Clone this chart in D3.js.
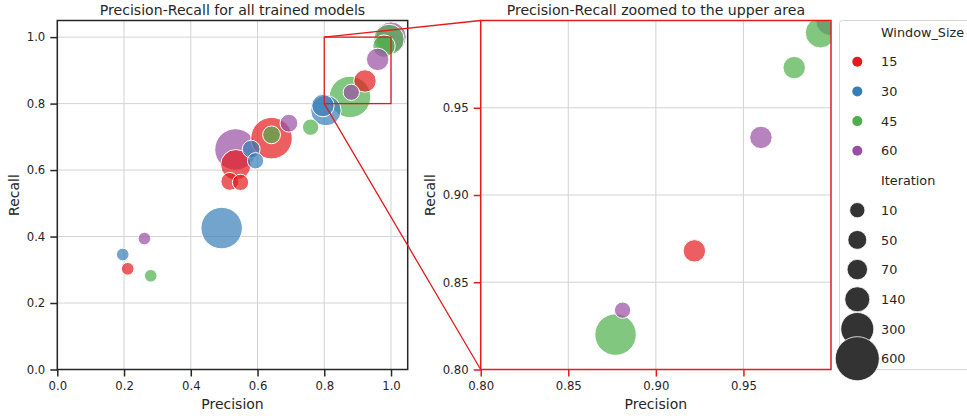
<!DOCTYPE html>
<html>
<head>
<meta charset="utf-8">
<script src="https://cdn.jsdelivr.net/npm/d3@7"></script>
<style>
  body { margin: 0; background: #fff; }
  text { font-family: "DejaVu Sans", sans-serif; fill: #262626; }
</style>
</head>
<body>
<svg id="chart" width="967" height="416"></svg>
<script>
// one row per trained model, listed in the order they get drawn
var runWindow    = [30, 60, 15, 45,   30, 15, 60, 45,   30, 15, 45, 60,   15, 30, 45, 60,   15, 30, 45, 60,   15, 30, 45, 60];
var runIteration = [600, 600, 600, 600, 300, 300, 300, 300, 140, 140, 140, 140, 70, 70, 70, 70, 50, 50, 50, 50, 10, 10, 10, 10];
var runPrecision = [0.4925, 0.534, 0.642, 0.877,  0.805, 0.535, 1.000, 0.994,  0.796, 0.922, 0.979, 0.960,
                    0.517, 0.581, 0.642, 0.694,  0.549, 0.594, 0.759, 0.881,  0.211, 0.196, 0.280, 0.261];
var runRecall    = [0.4255, 0.662, 0.696, 0.820,  0.779, 0.616, 1.000, 0.993,  0.794, 0.868, 0.973, 0.933,
                    0.566, 0.663, 0.706, 0.741,  0.563, 0.628, 0.729, 0.834,  0.303, 0.346, 0.282, 0.394];

var windowSizes = [15, 30, 45, 60];
var iterationLevels = [10, 50, 70, 140, 300, 600];
var windowColors = ['#e41a1c', '#377eb8', '#4daf4a', '#984ea3'];

var fullTicks = [0.0, 0.2, 0.4, 0.6, 0.8, 1.0];
var zoomTicks = [0.80, 0.85, 0.90, 0.95];
var fullRange = [0, 1.05];
var zoomRange = [0.8, 1.0];

var runs = runWindow.map(function(w, i) {
    return { window: w, iteration: runIteration[i], precision: runPrecision[i], recall: runRecall[i] };
});

var svg = d3.select('#chart');
var color = d3.scaleOrdinal(windowSizes, windowColors);
// seaborn maps size to marker area linearly
var area = d3.scaleLinear([10, 600], [40, 430]);
function radius(it) { return Math.sqrt(area(it)); }

var plotTop = 20.5, plotBottom = 369.5;

function panel(id, left, right, domain, ticks, fmt, frameColor, title, labelGap) {
    var x = d3.scaleLinear(domain, [left, right]);
    var y = d3.scaleLinear(domain, [plotBottom, plotTop]);
    var g = svg.append('g');

    g.append('clipPath').attr('id', id)
        .append('rect').attr('x', left).attr('y', plotTop)
        .attr('width', right - left).attr('height', plotBottom - plotTop);

    // grid
    g.append('g').selectAll('line').data(ticks).join('line')
        .attr('x1', d => x(d)).attr('x2', d => x(d))
        .attr('y1', plotTop).attr('y2', plotBottom)
        .attr('stroke', '#d3d3d3').attr('stroke-width', 1);
    g.append('g').selectAll('line').data(ticks).join('line')
        .attr('x1', left).attr('x2', right)
        .attr('y1', d => y(d)).attr('y2', d => y(d))
        .attr('stroke', '#d3d3d3').attr('stroke-width', 1);

    // points
    g.append('g').attr('clip-path', 'url(#' + id + ')')
        .selectAll('circle').data(runs).join('circle')
        .attr('cx', d => x(d.precision))
        .attr('cy', d => y(d.recall))
        .attr('r', d => radius(d.iteration))
        .attr('fill', d => color(d.window))
        .attr('fill-opacity', 0.7)
        .attr('stroke', '#fff').attr('stroke-width', 1);

    var xAxis = d3.axisBottom(x).tickValues(ticks).tickFormat(d3.format(fmt))
        .tickSize(7).tickSizeOuter(0).tickPadding(5);
    var yAxis = d3.axisLeft(y).tickValues(ticks).tickFormat(d3.format(fmt))
        .tickSize(7).tickSizeOuter(0).tickPadding(5);

    var ax = g.append('g').attr('transform', 'translate(0,' + plotBottom + ')').call(xAxis);
    var ay = g.append('g').attr('transform', 'translate(' + left + ',0)').call(yAxis);
    [ax, ay].forEach(function(a) {
        a.select('.domain').remove();
        a.selectAll('line').attr('stroke', frameColor).attr('stroke-width', 1.5);
        a.selectAll('text').style('font-size', '11.7px').attr('fill', '#262626')
            .style('font-family', '"DejaVu Sans", sans-serif');
    });

    g.append('rect')
        .attr('x', left).attr('y', plotTop)
        .attr('width', right - left).attr('height', plotBottom - plotTop)
        .attr('fill', 'none').attr('stroke', frameColor).attr('stroke-width', 1.5);

    g.append('text').attr('x', (left + right) / 2).attr('y', 15)
        .attr('text-anchor', 'middle').style('font-size', '14.1px').text(title);
    g.append('text').attr('x', (left + right) / 2).attr('y', 409)
        .attr('text-anchor', 'middle').style('font-size', '14px').text('Precision');
    g.append('text')
        .attr('transform', 'translate(' + (left - labelGap) + ',' + ((plotTop + plotBottom) / 2) + ') rotate(-90)')
        .attr('text-anchor', 'middle').attr('dy', '0.35em')
        .style('font-size', '14px').text('Recall');

    return { x: x, y: y };
}

var full = panel('clipFull', 57.3, 407.7, fullRange, fullTicks, '.1f', '#262626',
    'Precision-Recall for all trained models', 43);
var zoom = panel('clipZoom', 480.7, 831, zoomRange, zoomTicks, '.2f', '#e8191c',
    'Precision-Recall zoomed to the upper area', 51);

// inset marker and connectors
var red = '#e8191c';
svg.append('rect')
    .attr('x', full.x(zoomRange[0])).attr('y', full.y(zoomRange[1]))
    .attr('width', full.x(zoomRange[1]) - full.x(zoomRange[0]))
    .attr('height', full.y(zoomRange[0]) - full.y(zoomRange[1]))
    .attr('fill', 'none').attr('stroke', red).attr('stroke-width', 1.3);
svg.append('line')
    .attr('x1', full.x(zoomRange[0])).attr('y1', full.y(zoomRange[1]))
    .attr('x2', zoom.x(zoomRange[0])).attr('y2', zoom.y(zoomRange[1]))
    .attr('stroke', red).attr('stroke-width', 1.3);
svg.append('line')
    .attr('x1', full.x(zoomRange[0])).attr('y1', full.y(zoomRange[0]))
    .attr('x2', zoom.x(zoomRange[0])).attr('y2', zoom.y(zoomRange[0]))
    .attr('stroke', red).attr('stroke-width', 1.3);

// legend
var lg = svg.append('g');
lg.append('rect').attr('x', 839.5).attr('y', 20.5).attr('width', 150).attr('height', 349)
    .attr('rx', 3).attr('fill', '#fff').attr('stroke', '#d6d6d6').attr('stroke-width', 1);

var step = 29.7, y0 = 32;
var entries = [{ label: 'Window_Size' }]
    .concat(windowSizes.map(w => ({ label: String(w), hue: w })))
    .concat([{ label: 'Iteration' }])
    .concat(iterationLevels.map(it => ({ label: String(it), size: it })));

entries.forEach(function(e, i) {
    var yy = y0 + i * step;
    if (e.hue !== undefined) {
        lg.append('circle').attr('cx', 857.3).attr('cy', yy).attr('r', 5)
            .attr('fill', color(e.hue));
    } else if (e.size !== undefined) {
        lg.append('circle').attr('cx', 857.3).attr('cy', yy).attr('r', radius(e.size) + 1.3)
            .attr('fill', '#333').attr('stroke', '#fff').attr('stroke-width', 0.8);
    }
    lg.append('text').attr('x', 881).attr('y', yy).attr('dy', '0.36em')
        .style('font-size', '12.8px').text(e.label);
});
</script>
</body>
</html>
